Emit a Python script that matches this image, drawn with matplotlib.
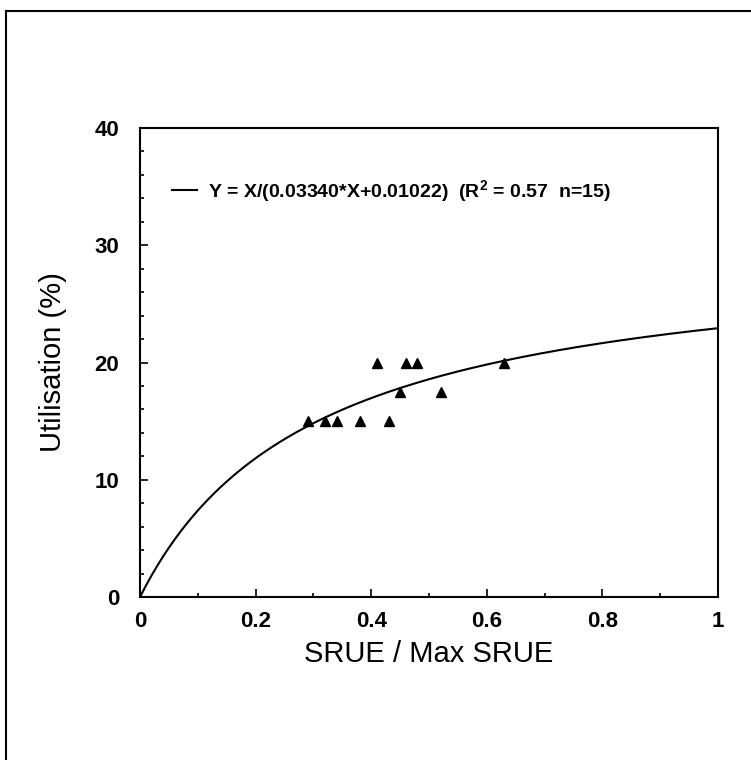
import numpy as np
import matplotlib
matplotlib.use('Agg')
from matplotlib import pyplot as plt
from matplotlib.patches import Rectangle
from matplotlib.ticker import MultipleLocator

plt.rcParams['font.family'] = ['Liberation Sans', 'DejaVu Sans']
plt.rcParams['mathtext.default'] = 'regular'

# observed points (SRUE / max SRUE, utilisation %)
srue_ratio = [0.29, 0.32, 0.34, 0.38, 0.43, 0.45, 0.52, 0.41, 0.46, 0.48, 0.63]
utilisation = [15, 15, 15, 15, 15, 17.5, 17.5, 20, 20, 20, 20]

# fitted hyperbola Y = X/(a*X+b)
fit_a = 0.03340
fit_b = 0.01022
fit_label = r'Y = X/(0.03340*X+0.01022)  (R$^2$ = 0.57  n=15)'

fig = plt.figure(figsize=(7.51, 7.60), dpi=100)
ax = fig.add_axes([140 / 751, 1 - 597 / 760, 578 / 751, 469 / 760])

xs = np.linspace(0, 1, 300)
ax.plot(xs, xs / (fit_a * xs + fit_b), color='black', lw=1.5, label=fit_label)
ax.plot(srue_ratio, utilisation, '^', color='black', ms=7, ls='none')

ax.set_xlim(0, 1)
ax.set_ylim(0, 40)
ax.xaxis.set_major_locator(MultipleLocator(0.2))
ax.xaxis.set_minor_locator(MultipleLocator(0.1))
ax.yaxis.set_major_locator(MultipleLocator(10))
ax.yaxis.set_minor_locator(MultipleLocator(2))
ax.set_xticks([0, 0.2, 0.4, 0.6, 0.8, 1.0])
ax.set_xticklabels(['0', '0.2', '0.4', '0.6', '0.8', '1'])
ax.tick_params(which='both', direction='in', top=False, right=False, width=1.2)
ax.tick_params(which='major', length=6, labelsize=16)
ax.tick_params(which='minor', length=3)
ax.tick_params(axis='y', pad=15)
ax.tick_params(axis='x', pad=10)
for lbl in ax.get_xticklabels() + ax.get_yticklabels():
    lbl.set_fontweight('bold')
for s in ax.spines.values():
    s.set_linewidth(1.5)

ax.set_xlabel('SRUE / Max SRUE', fontsize=21, labelpad=6)
ax.set_ylabel('Utilisation (%)', fontsize=21, labelpad=20)

leg = ax.legend(loc='center left', bbox_to_anchor=(0.055, 0.866), frameon=False,
                prop={'size': 14, 'weight': 'bold'}, handlelength=1.3,
                handletextpad=0.55, borderpad=0, borderaxespad=0)

# outer frame of the original figure
fig.patches.append(Rectangle((6 / 751, -0.5), 2, 0.5 + 1 - 11 / 760,
                             transform=fig.transFigure, fill=False,
                             lw=1.5, edgecolor='black'))

plt.savefig('out.png', dpi=100)
